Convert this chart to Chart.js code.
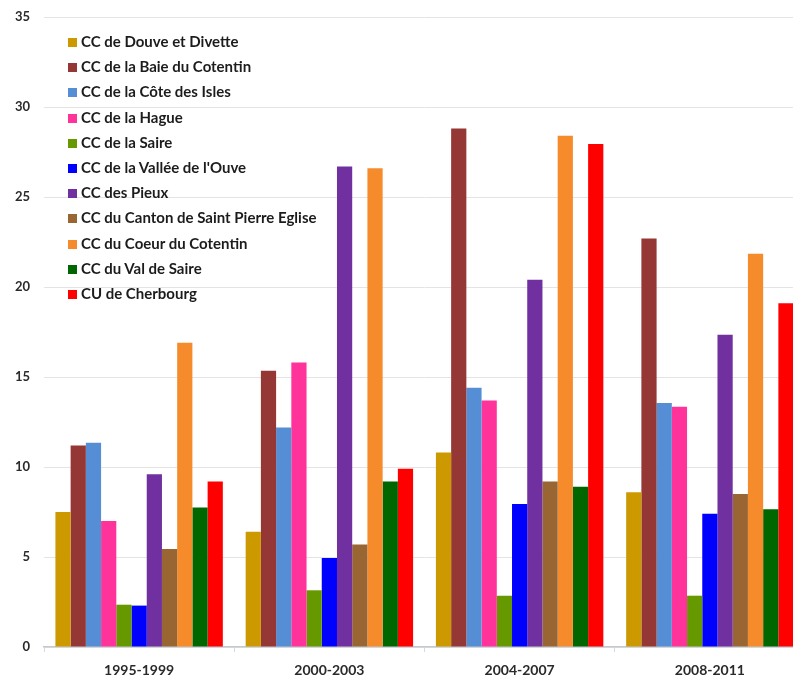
<!DOCTYPE html>
<html>
<head>
<meta charset="utf-8">
<script src="https://cdn.jsdelivr.net/npm/chart.js@4/dist/chart.umd.min.js"></script>
<style>
  html, body { margin: 0; padding: 0; background: #fff; overflow: hidden; }
  #wrap { position: relative; width: 808px; height: 681px; }
  #legend {
    position: absolute; left: 68px; top: 29px;
    font-family: Lato, "Liberation Sans", sans-serif; font-weight: bold;
    font-size: 15px; color: #1c1c1c;
  }
  #legend .row { height: 25.2px; line-height: 25.2px; white-space: nowrap; }
  #legend .box { display: inline-block; width: 9px; height: 9px; margin-right: 4px; vertical-align: 0px; }
</style>
</head>
<body>
<div id="wrap">
  <canvas id="chart" width="808" height="681"></canvas>
  <div id="legend"></div>
</div>
<script>
const periods = ["1995-1999", "2000-2003", "2004-2007", "2008-2011"];
const yTicks = [0, 5, 10, 15, 20, 25, 30, 35];

const names = [
  "CC de Douve et Divette",
  "CC de la Baie du Cotentin",
  "CC de la Côte des Isles",
  "CC de la Hague",
  "CC de la Saire",
  "CC de la Vallée de l'Ouve",
  "CC des Pieux",
  "CC du Canton de Saint Pierre Eglise",
  "CC du Coeur du Cotentin",
  "CC du Val de Saire",
  "CU de Cherbourg",
];

const douve = [7.5, 6.4, 10.8, 8.6];
const baie = [11.2, 15.35, 28.8, 22.7];
const isles = [11.35, 12.2, 14.4, 13.55];
const hague = [7.0, 15.8, 13.7, 13.35];
const saire = [2.35, 3.15, 2.85, 2.85];
const ouve = [2.3, 4.95, 7.95, 7.4];
const pieux = [9.6, 26.7, 20.4, 17.35];
const canton = [5.45, 5.7, 9.2, 8.5];
const coeur = [16.9, 26.6, 28.4, 21.85];
const valSaire = [7.75, 9.2, 8.9, 7.65];
const cherbourg = [9.2, 9.9, 27.95, 19.1];

const series = [douve, baie, isles, hague, saire, ouve, pieux, canton, coeur, valSaire, cherbourg];
const colors = ["#cc9900", "#953735", "#558ed5", "#ff3399", "#669900", "#0000ff",
                "#7030a0", "#996633", "#f68b2b", "#006600", "#ff0000"];

const datasets = series.map((data, i) => ({
  label: names[i],
  data,
  backgroundColor: colors[i],
  borderWidth: 0,
  barPercentage: 1,
  categoryPercentage: 0.88,
}));

// legend as real text, drawn from the same arrays
const leg = document.getElementById("legend");
names.forEach((n, i) => {
  const row = document.createElement("div");
  row.className = "row";
  row.innerHTML = `<span class="box" style="background:${colors[i]}"></span>`;
  row.appendChild(document.createTextNode(n));
  leg.appendChild(row);
});

const axisFont = { family: "Lato, 'Liberation Sans', sans-serif", size: 14, weight: "bold" };

new Chart(document.getElementById("chart"), {
  type: "bar",
  data: { labels: periods, datasets },
  options: {
    responsive: false,
    animation: false,
    layout: { padding: { top: 17, right: 3, bottom: 0, left: 0 } },
    plugins: { legend: { display: false }, tooltip: { enabled: false } },
    scales: {
      x: {
        afterFit: (scale) => { scale.height = 34; },
        grid: { drawOnChartArea: false, drawTicks: true, tickLength: 5, color: "#d6d9de" },
        border: { color: "#c4c8d0", width: 1.5 },
        ticks: { color: "#2a2a2a", font: axisFont, padding: 10 },
      },
      y: {
        min: 0,
        max: 35,
        afterFit: (scale) => {
          scale.width = 44;
          scale.paddingTop = 0;
          scale.paddingBottom = 0;
        },
        afterBuildTicks: (scale) => { scale.ticks = yTicks.map((v) => ({ value: v })); },
        grid: { color: "#e4e4e4", drawTicks: false },
        border: { display: false },
        ticks: { color: "#2a2a2a", font: { ...axisFont, size: 13 }, padding: 14 },
      },
    },
  },
});
</script>
</body>
</html>
